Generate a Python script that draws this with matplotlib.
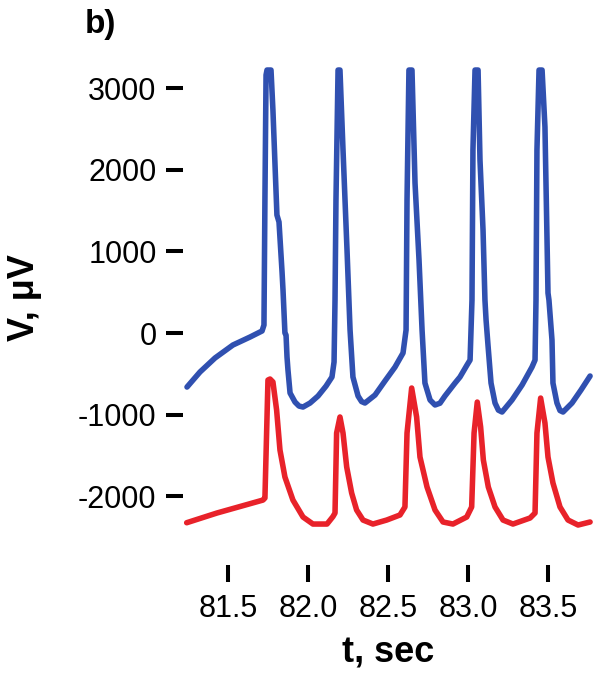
import numpy as np
import matplotlib; matplotlib.use("Agg")
import matplotlib.pyplot as plt

plt.rcParams['font.family'] = ['Liberation Sans', 'DejaVu Sans']

# blue trace (upper), time in s, voltage in uV
t_blue = [81.244, 81.325, 81.419, 81.531, 81.638, 81.713, 81.725, 81.731, 81.738, 81.744,
          81.769, 81.781, 81.806, 81.819, 81.838, 81.844, 81.856, 81.863, 81.869, 81.875,
          81.888, 81.919, 81.944, 81.969, 82.013, 82.063, 82.113, 82.150, 82.163, 82.169, 82.175,
          82.188, 82.200, 82.219, 82.244, 82.263, 82.281, 82.313, 82.335, 82.356, 82.419, 82.481,
          82.544, 82.594, 82.613, 82.619, 82.631, 82.650, 82.669, 82.694, 82.713, 82.731,
          82.763, 82.794, 82.825, 82.856, 82.919, 82.950, 82.994, 83.013, 83.025, 83.031, 83.044,
          83.063, 83.075, 83.094, 83.106, 83.113, 83.125, 83.144, 83.169, 83.190, 83.213, 83.275,
          83.338, 83.400, 83.419, 83.425, 83.431, 83.444, 83.463, 83.481, 83.500, 83.506,
          83.525, 83.531, 83.556, 83.575, 83.594, 83.650, 83.706, 83.763]
v_blue = [-662, -478, -306, -147, -49, 25, 98, 1635, 3162, 3223,
          3223, 2733, 1446, 1360, 748, 527, 0, -25, -294, -453,
          -735, -846, -895, -907, -858, -772, -650, -539, -355, 404, 1630,
          3223, 3223, 2243, 1017, 37, -539, -772, -840, -858, -760, -588,
          -417, -245, 37, 1630, 3223, 3223, 1838, 895, 37, -613,
          -821, -882, -860, -772, -613, -539, -392, -331, 404, 2243, 3223,
          3223, 2120, 1262, 404, 159, -147, -613, -858, -945, -968, -821,
          -637, -417, -331, 404, 2243, 3223, 3223, 2525, 490, 404,
          -86, -613, -858, -950, -968, -858, -699, -527]

# red trace (lower)
t_red = [81.242, 81.431, 81.719, 81.731, 81.750, 81.763, 81.781, 81.804, 81.825, 81.856,
         81.906, 81.969, 82.031, 82.119, 82.156, 82.169, 82.179, 82.200, 82.219, 82.242,
         82.273, 82.304, 82.344, 82.406, 82.492, 82.575, 82.606, 82.619, 82.648, 82.679,
         82.700, 82.744, 82.794, 82.844, 82.906, 82.992, 83.023, 83.038, 83.058, 83.079,
         83.096, 83.127, 83.169, 83.219, 83.281, 83.388, 83.419, 83.431, 83.454, 83.481,
         83.500, 83.531, 83.575, 83.625, 83.688, 83.763]
v_red = [-2325, -2206, -2047, -2022, -576, -564, -600, -944, -1434, -1765,
         -2047, -2255, -2341, -2341, -2250, -2206, -1226, -1029, -1226, -1642,
         -1961, -2169, -2292, -2341, -2292, -2230, -2132, -1226, -674, -1029,
         -1520, -1887, -2169, -2316, -2341, -2255, -2132, -1226, -846, -1152,
         -1556, -1887, -2132, -2292, -2341, -2267, -2206, -1226, -797, -1103,
         -1520, -1838, -2132, -2292, -2353, -2316]

xticks = [81.5, 82.0, 82.5, 83.0, 83.5]
yticks = [3000, 2000, 1000, 0, -1000, -2000]

W, H = 601, 682
fig = plt.figure(figsize=(W/100, H/100), dpi=100)
ax = fig.add_axes([183/W, (H-565)/H, (598-183)/W, (565-60)/H])

ax.plot(t_blue, v_blue, color="#3050b0", lw=4, solid_joinstyle="round", solid_capstyle="round")
ax.plot(t_red, v_red, color="#e8222a", lw=4, solid_joinstyle="round", solid_capstyle="round")

ax.set_xlim(81.219, 83.8125)
ax.set_ylim(-2843, 3346)
for s in ax.spines.values():
    s.set_visible(False)
ax.set_xticks(xticks)
ax.set_xticklabels([f"{v:.1f}" for v in xticks])
ax.set_yticks(yticks)
ax.set_yticklabels([str(v) for v in yticks])
ax.tick_params(axis="both", direction="out", length=12, width=2.9, color="black",
               labelsize=22)
ax.tick_params(axis="y", pad=7)
ax.tick_params(axis="x", pad=9)

fig.text(24/W, 1-298/H, "V, μV", rotation=90, ha="center", va="center",
         fontsize=26, fontweight="bold")
fig.text(388/W, 1-653/H, "t, sec", ha="center", va="center",
         fontsize=26, fontweight="bold")
fig.text(85/W, 1-24/H, "b)", ha="left", va="center", fontsize=24, fontweight="bold")

fig.savefig("out.png", dpi=100)
